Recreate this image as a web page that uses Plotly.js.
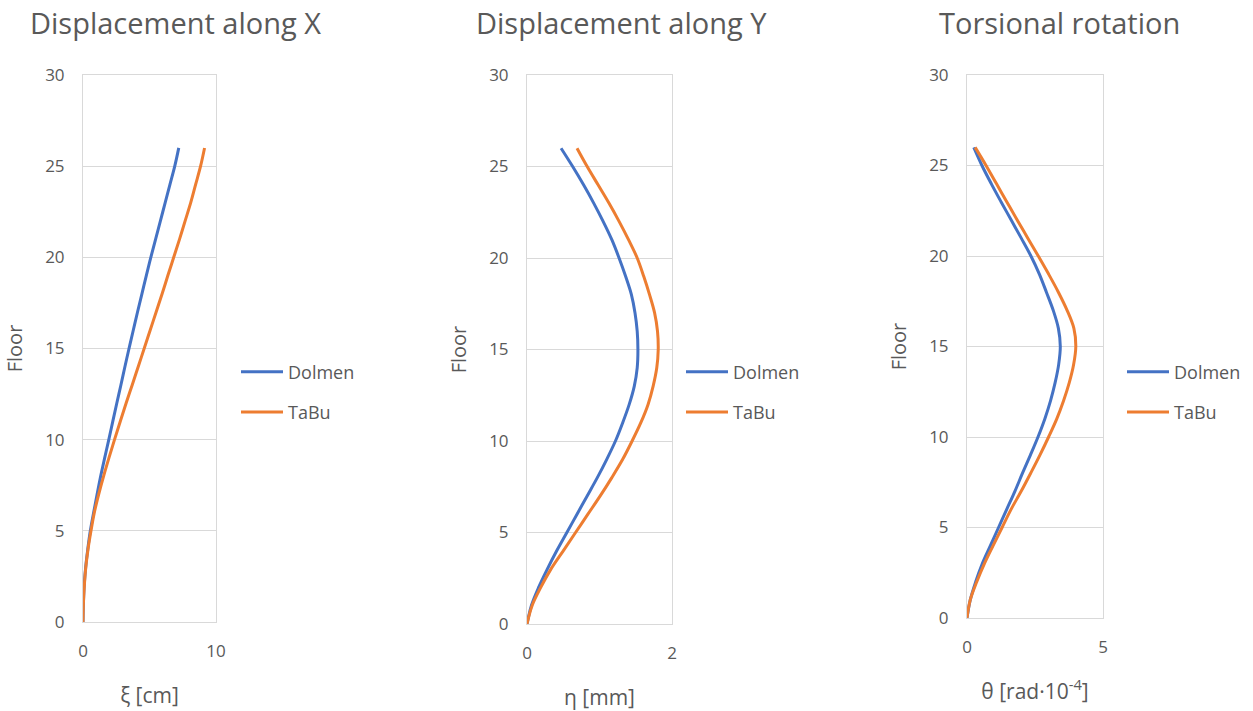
<!DOCTYPE html>
<html>
<head>
<meta charset="utf-8">
<script src="https://cdn.plot.ly/plotly-3.0.1.min.js"></script>
<style>html,body{margin:0;padding:0;background:#fff;}#chart{width:1253px;height:711px;}</style>
</head>
<body>
<div id="chart"></div>
<script>
// Floors 0..26
const floors = [0, 1, 2, 3, 4, 5, 6, 7, 8, 9, 10, 11, 12, 13, 14, 15, 16, 17, 18, 19, 20, 21, 22, 23, 24, 25, 26];

// Displacement along X  (ξ [cm])
const xiDolmen = [0, 0.03, 0.09, 0.20, 0.36, 0.55, 0.80, 1.06, 1.33, 1.63, 1.94, 2.24, 2.54, 2.85, 3.15, 3.46, 3.78, 4.10, 4.43, 4.76, 5.10, 5.46, 5.82, 6.18, 6.54, 6.90, 7.20];
const xiTabu   = [0, 0.03, 0.10, 0.21, 0.38, 0.60, 0.85, 1.18, 1.55, 1.95, 2.37, 2.80, 3.24, 3.70, 4.15, 4.60, 5.05, 5.50, 5.95, 6.38, 6.82, 7.26, 7.68, 8.10, 8.47, 8.84, 9.14];

// Displacement along Y  (η [mm])
const etaDolmen = [0, 0.06, 0.16, 0.28, 0.41, 0.55, 0.69, 0.83, 0.97, 1.10, 1.22, 1.32, 1.41, 1.48, 1.52, 1.53, 1.52, 1.49, 1.44, 1.36, 1.27, 1.17, 1.05, 0.92, 0.78, 0.63, 0.47];
const etaTabu   = [0, 0.07, 0.19, 0.33, 0.50, 0.67, 0.84, 1.01, 1.17, 1.32, 1.45, 1.57, 1.67, 1.74, 1.79, 1.81, 1.80, 1.76, 1.69, 1.61, 1.52, 1.40, 1.27, 1.13, 0.98, 0.83, 0.69];

// Torsional rotation  (θ [rad·10^-4])
const thDolmen = [0, 0.12, 0.32, 0.56, 0.86, 1.16, 1.46, 1.76, 2.04, 2.33, 2.61, 2.86, 3.07, 3.24, 3.37, 3.43, 3.36, 3.17, 2.92, 2.66, 2.35, 1.99, 1.62, 1.25, 0.89, 0.55, 0.25];
const thTabu   = [0, 0.12, 0.36, 0.64, 0.96, 1.29, 1.62, 1.99, 2.34, 2.68, 3.00, 3.30, 3.55, 3.76, 3.92, 4.00, 3.93, 3.68, 3.36, 3.00, 2.62, 2.23, 1.84, 1.46, 1.08, 0.70, 0.30];

const seriesNames = ['Dolmen', 'TaBu'];
const panelTitles = ['Displacement along X', 'Displacement along Y', 'Torsional rotation'];
const xTitles = ['ξ [cm]', 'η [mm]', 'θ [rad·10<sup>-4</sup>]'];
const xRanges = [[0, 10], [0, 2], [0, 5]];
const xDticks = [10, 2, 5];
const yTitle = 'Floor';

const BLUE = '#4472C4', ORANGE = '#ED7D31';
const TXT = '#595959', GRID = '#D9D9D9';
const FONT = 'Open Sans, sans-serif';

const W = 1253, H = 711;
const px = v => v / W, py = v => (H - v) / H;

const xDom = [[px(83), px(216)], [px(527), px(672)], [px(967), px(1103)]];
const yDom = [[py(622), py(75)], [py(624), py(75)], [py(618), py(75)]];
const legendX = [px(236), px(681), px(1122)];
const titleX = [175, 621, 1059];

const data = [];
const pairs = [[xiDolmen, xiTabu], [etaDolmen, etaTabu], [thDolmen, thTabu]];
pairs.forEach((p, i) => {
  const sfx = i === 0 ? '' : String(i + 1);
  const lg = i === 0 ? 'legend' : 'legend' + (i + 1);
  [BLUE, ORANGE].forEach((c, k) => {
    data.push({
      x: p[k], y: floors, type: 'scatter', mode: 'lines',
      name: seriesNames[k],
      line: {color: c, width: 3, shape: 'spline', smoothing: 1.0},
      xaxis: 'x' + sfx, yaxis: 'y' + sfx,
      legend: lg, legendgroup: 'g' + i + k,
      hoverinfo: 'x+y'
    });
  });
});

const layout = {
  width: W, height: H,
  margin: {l: 0, r: 0, t: 0, b: 0},
  paper_bgcolor: '#fff', plot_bgcolor: '#fff',
  font: {family: FONT, color: TXT, size: 17},
  showlegend: true,
  annotations: []
};

for (let i = 0; i < 3; i++) {
  const sfx = i === 0 ? '' : String(i + 1);
  layout['xaxis' + sfx] = {
    domain: xDom[i], anchor: 'y' + sfx, range: xRanges[i], dtick: xDticks[i],
    tick0: 0, showgrid: true, gridcolor: GRID, gridwidth: 1, zeroline: false,
    showline: true, linecolor: GRID, linewidth: 1, mirror: true,
    ticks: '', ticklabelstandoff: 14,
    tickfont: {family: FONT, size: 17, color: TXT},
    title: {text: xTitles[i], font: {family: FONT, size: 21, color: TXT}, standoff: 26},
    automargin: false, fixedrange: true
  };
  layout['yaxis' + sfx] = {
    domain: yDom[i], anchor: 'x' + sfx, range: [0, 30], dtick: 5, tick0: 0,
    showgrid: true, gridcolor: GRID, gridwidth: 1, zeroline: false,
    showline: true, linecolor: GRID, linewidth: 1, mirror: true,
    ticks: '', ticklabelstandoff: 14,
    tickfont: {family: FONT, size: 17, color: TXT},
    title: {text: yTitle, font: {family: FONT, size: 20, color: TXT}, standoff: 17},
    automargin: false, fixedrange: true
  };
  const lg = i === 0 ? 'legend' : 'legend' + (i + 1);
  layout[lg] = {
    x: legendX[i], xanchor: 'left', y: py(392), yanchor: 'middle',
    xref: 'paper', yref: 'paper',
    font: {family: FONT, size: 18, color: TXT},
    bgcolor: 'rgba(0,0,0,0)', borderwidth: 0, itemwidth: 42,
    traceorder: 'grouped', tracegroupgap: 14
  };
  layout.annotations.push({
    text: panelTitles[i], x: px(titleX[i]), y: py(22), xref: 'paper', yref: 'paper',
    xanchor: 'center', yanchor: 'middle', showarrow: false,
    font: {family: FONT, size: 29, color: TXT}
  });
}

Plotly.newPlot('chart', data, layout, {displayModeBar: false, staticPlot: true});
</script>
</body>
</html>
